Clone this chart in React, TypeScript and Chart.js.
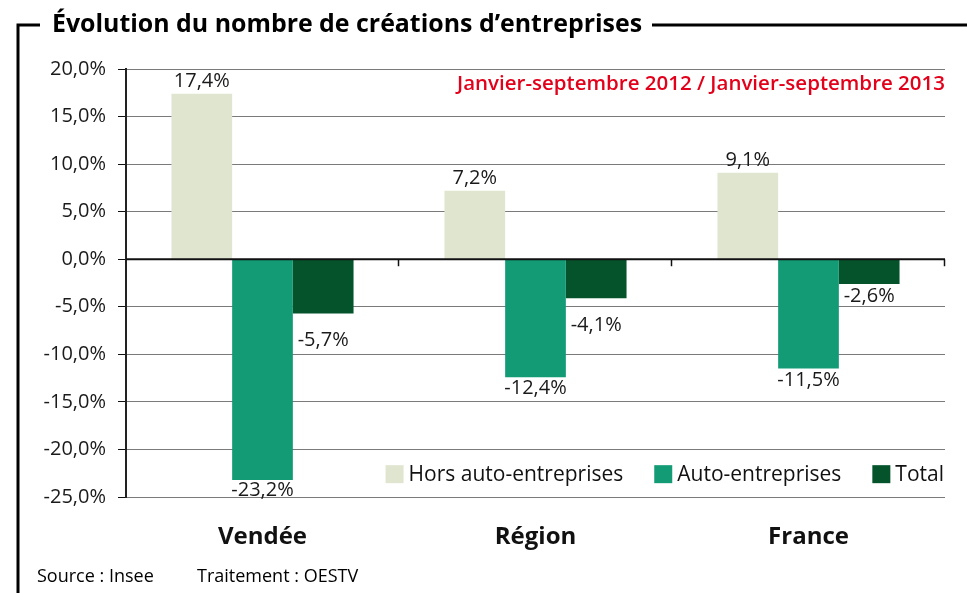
import React, { useEffect, useRef } from "react";
import { Chart, registerables } from "chart.js";

Chart.register(...registerables);

const categories = ["Vendée", "Région", "France"];
const seriesNames = ["Hors auto-entreprises", "Auto-entreprises", "Total"];
const horsAuto = [17.4, 7.2, 9.1];
const autoEntreprises = [-23.2, -12.4, -11.5];
const total = [-5.7, -4.1, -2.6];
const yMin = -25;
const yMax = 20;
const yStep = 5;

const titleText = "Évolution du nombre de créations d’entreprises";
const periodText = "Janvier-septembre 2012 / Janvier-septembre 2013";
const sourceText = "Source : Insee";
const treatmentText = "Traitement : OESTV";

const colors = ["#e0e5d0", "#139b76", "#04532a"];
const FONT = "'Open Sans', 'Noto Sans', sans-serif";
// extra gap (px) below negative labels, per dataset / category
const negGap = [
  [11, 11, 11],
  [10, 11, 12],
  [27, 27, 12],
];

const fmt = (v: number) => v.toFixed(1).replace(".", ",") + "%";

const decorPlugin = {
  id: "decor",
  afterDatasetsDraw(chart: any) {
    const { ctx, chartArea, scales } = chart;
    const x = scales.x;
    const y = scales.y;
    const y0 = y.getPixelForValue(0);
    ctx.save();
    // zero line
    ctx.strokeStyle = "#111";
    ctx.lineWidth = 2;
    ctx.beginPath();
    ctx.moveTo(chartArea.left, y0);
    ctx.lineTo(chartArea.right, y0);
    ctx.stroke();
    // category separators ticks
    const step = (chartArea.right - chartArea.left) / categories.length;
    ctx.lineWidth = 1.5;
    for (let i = 1; i <= categories.length; i++) {
      const px = Math.round(x.getPixelForValue(i - 1) + step / 2) - 0.5;
      ctx.beginPath();
      ctx.moveTo(px, y0);
      ctx.lineTo(px, y0 + 7);
      ctx.stroke();
    }
    // data labels
    ctx.font = `20px ${FONT}`;
    ctx.fillStyle = "#1a1a1a";
    ctx.textAlign = "center";
    ctx.textBaseline = "middle";
    chart.data.datasets.forEach((ds: any, di: number) => {
      const meta = chart.getDatasetMeta(di);
      meta.data.forEach((el: any, i: number) => {
        const v = ds.data[i];
        const ly = v >= 0 ? el.y - 12 : el.y + negGap[di][i];
        ctx.fillText(fmt(v), el.x, ly);
      });
    });
    // period text
    ctx.font = `600 20.5px ${FONT}`;
    ctx.fillStyle = "#e2001a";
    ctx.textAlign = "right";
    ctx.fillText(periodText, chartArea.right, y.getPixelForValue(17.4) - 10);
    // legend
    ctx.font = `21px ${FONT}`;
    ctx.textAlign = "left";
    ctx.fillStyle = "#111";
    const ly = y.getPixelForValue(-22.6);
    const gap = 31;
    const box = 18;
    let widths = seriesNames.map((n) => box + 5 + ctx.measureText(n).width);
    let totalW = widths.reduce((a, b) => a + b, 0) + gap * (seriesNames.length - 1);
    let lx = chartArea.right - 1 - totalW;
    seriesNames.forEach((n, i) => {
      ctx.fillStyle = colors[i];
      ctx.fillRect(lx, ly - box / 2, box, box);
      ctx.fillStyle = "#111";
      ctx.fillText(n, lx + box + 5, ly + 1);
      lx += widths[i] + gap;
    });
    ctx.restore();
  },
  afterDraw(chart: any) {
    const { ctx, width, height } = chart;
    ctx.save();
    // frame
    ctx.strokeStyle = "#000";
    ctx.lineWidth = 3;
    ctx.beginPath();
    ctx.moveTo(18, height);
    ctx.lineTo(18, 25);
    ctx.lineTo(40, 25);
    ctx.stroke();
    ctx.font = `bold 25px ${FONT}`;
    ctx.fillStyle = "#000";
    ctx.textAlign = "left";
    ctx.textBaseline = "alphabetic";
    ctx.fillText(titleText, 52, 32, 590);
    const tw = Math.min(590, ctx.measureText(titleText).width);
    ctx.beginPath();
    ctx.moveTo(52 + tw + 10, 25);
    ctx.lineTo(width, 25);
    ctx.stroke();
    // source
    ctx.font = `18px ${FONT}`;
    ctx.textBaseline = "middle";
    ctx.fillText(sourceText, 37, 577);
    ctx.fillText(treatmentText, 197, 577);
    ctx.restore();
  },
};

export default function App() {
  const ref = useRef<HTMLCanvasElement>(null);
  useEffect(() => {
    document.body.style.margin = "0";
    const chart = new Chart(ref.current!, {
      type: "bar",
      data: {
        labels: categories,
        datasets: [
          { label: seriesNames[0], data: horsAuto, backgroundColor: colors[0] },
          { label: seriesNames[1], data: autoEntreprises, backgroundColor: colors[1] },
          { label: seriesNames[2], data: total, backgroundColor: colors[2] },
        ],
      },
      options: {
        responsive: false,
        animation: false,
        devicePixelRatio: 1,
        datasets: { bar: { categoryPercentage: 0.667, barPercentage: 1 } },
        layout: { padding: { left: 20, right: 22, top: 69, bottom: 30 } },
        plugins: { legend: { display: false }, tooltip: { enabled: false }, title: { display: false } },
        scales: {
          x: {
            grid: { display: false, drawTicks: false },
            border: { display: false },
            ticks: { font: { family: FONT, size: 24, weight: "bold" }, color: "#111", padding: 26 },
            afterFit: (s: any) => { s.height = 66; },
          },
          y: {
            min: yMin,
            max: yMax,
            ticks: {
              stepSize: yStep,
              padding: 12,
              color: "#1a1a1a",
              font: { family: FONT, size: 20 },
              callback: (v: any) => fmt(Number(v)),
            },
            grid: { color: "#7a7a7a", lineWidth: 1, tickLength: 8, tickColor: "#111" },
            border: { color: "#222", width: 2 },
            afterFit: (s: any) => { s.width = 106; },
          },
        },
      },
      plugins: [decorPlugin],
    });
    return () => chart.destroy();
  }, []);
  return <canvas ref={ref} width={967} height={593} style={{ display: "block" }} />;
}
